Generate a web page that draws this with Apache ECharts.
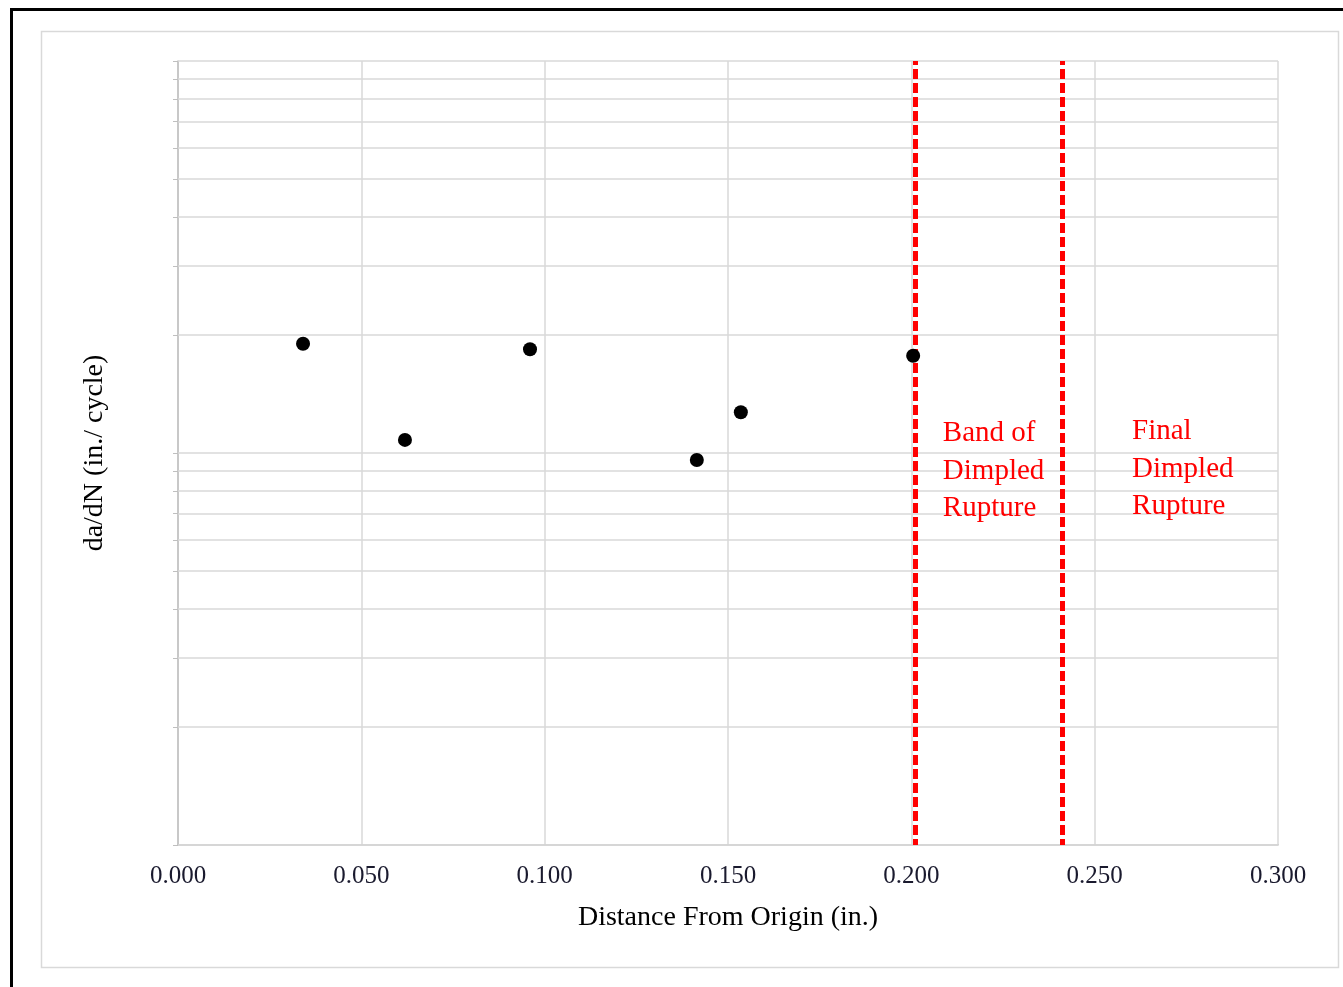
<!DOCTYPE html>
<html>
<head>
<meta charset="utf-8">
<script src="https://cdn.jsdelivr.net/npm/echarts@6/dist/echarts.min.js"></script>
<style>
html,body{margin:0;padding:0;background:#fff;}
#c{width:1343px;height:987px;}
</style>
</head>
<body>
<div id="c"></div>
<script>
// ---- data ----
const distance = [0.0341, 0.0619, 0.0960, 0.1415, 0.1535, 0.2005];
const dadN = [1.90e-5, 1.08e-5, 1.84e-5, 9.6e-6, 1.27e-5, 1.77e-5];
const boundaryX = [0.2010, 0.2411];
const annotationText = ['Band of\nDimpled\nRupture', 'Final\nDimpled\nRupture'];
const annotationX = [0.2086, 0.2602];
const annotationY = [9.0e-6, 9.1e-6];
const yGridValues = [1e-6,2e-6,3e-6,4e-6,5e-6,6e-6,7e-6,8e-6,9e-6,1e-5,2e-5,3e-5,4e-5,5e-5,6e-5,7e-5,8e-5,9e-5,1e-4];
const xTickDecimals = 3;

const serif = '"Liberation Serif","DejaVu Serif",serif';
const chart = echarts.init(document.getElementById('c'));
chart.setOption({
  animation: false,
  backgroundColor: '#fff',
  graphic: [
    {type:'rect', shape:{x:11.5,y:9.5,width:1345,height:990}, style:{fill:'none',stroke:'#000',lineWidth:3}, silent:true, z:-10},
    {type:'rect', shape:{x:41.5,y:31.5,width:1297,height:936}, style:{fill:'none',stroke:'#d9d9d9',lineWidth:1.5}, silent:true, z:-10}
  ],
  grid: {left:178, top:61, width:1100, height:784, containLabel:false},
  xAxis: {
    type:'value', min:0, max:0.3, interval:0.05,
    name:'Distance From Origin (in.)', nameLocation:'middle', nameGap:59,
    nameTextStyle:{fontFamily:serif, fontSize:28, color:'#000'},
    axisLine:{show:true, onZero:false, lineStyle:{color:'#bfbfbf', width:1.5}},
    axisTick:{show:false},
    axisLabel:{fontFamily:serif, fontSize:25, color:'#1a1a2e', margin:19, formatter:v=>v.toFixed(xTickDecimals)},
    splitLine:{show:true, lineStyle:{color:'#d9d9d9', width:1.5}}
  },
  yAxis: {
    type:'log', logBase:10, min:1e-6, max:1e-4,
    name:'da/dN (in./ cycle)', nameLocation:'middle', nameGap:69, nameRotate:90,
    nameTextStyle:{fontFamily:serif, fontSize:28, color:'#000'},
    axisLine:{show:true, lineStyle:{color:'#bfbfbf', width:1.5}},
    axisTick:{show:true, inside:false, length:5, lineStyle:{color:'#bfbfbf'}},
    minorTick:{show:true, splitNumber:9, length:5, lineStyle:{color:'#bfbfbf'}},
    axisLabel:{show:false},
    splitLine:{show:false}
  },
  series: [
    {
      type:'scatter', data: distance.map((x,i)=>[x,dadN[i]]),
      symbol:'circle', symbolSize:14, itemStyle:{color:'#000', opacity:1}, z:5,
      markLine:{
        silent:true, symbol:'none', precision:10, label:{show:false}, animation:false,
        lineStyle:{color:'#d9d9d9', width:1.5, type:'solid'},
        data: yGridValues.map(v=>({yAxis:v}))
      }
    },
    {
      type:'scatter', data:[], z:6,
      markLine:{
        silent:true, symbol:'none', precision:6, label:{show:false}, animation:false,
        lineStyle:{color:'#ff0000', width:5, type:[10,4], dashOffset:4, cap:'butt'},
        data: boundaryX.map(v=>({xAxis:v}))
      },
      markPoint:{
        silent:true, symbol:'circle', symbolSize:0, animation:false,
        label:{show:true, position:[0,0], align:'left', verticalAlign:'middle',
          fontFamily:serif, fontSize:29, lineHeight:37.5, color:'#ff0000', formatter:p=>p.name},
        data: annotationText.map((t,i)=>({name:t, coord:[annotationX[i], annotationY[i]]}))
      }
    }
  ]
});
</script>
</body>
</html>
